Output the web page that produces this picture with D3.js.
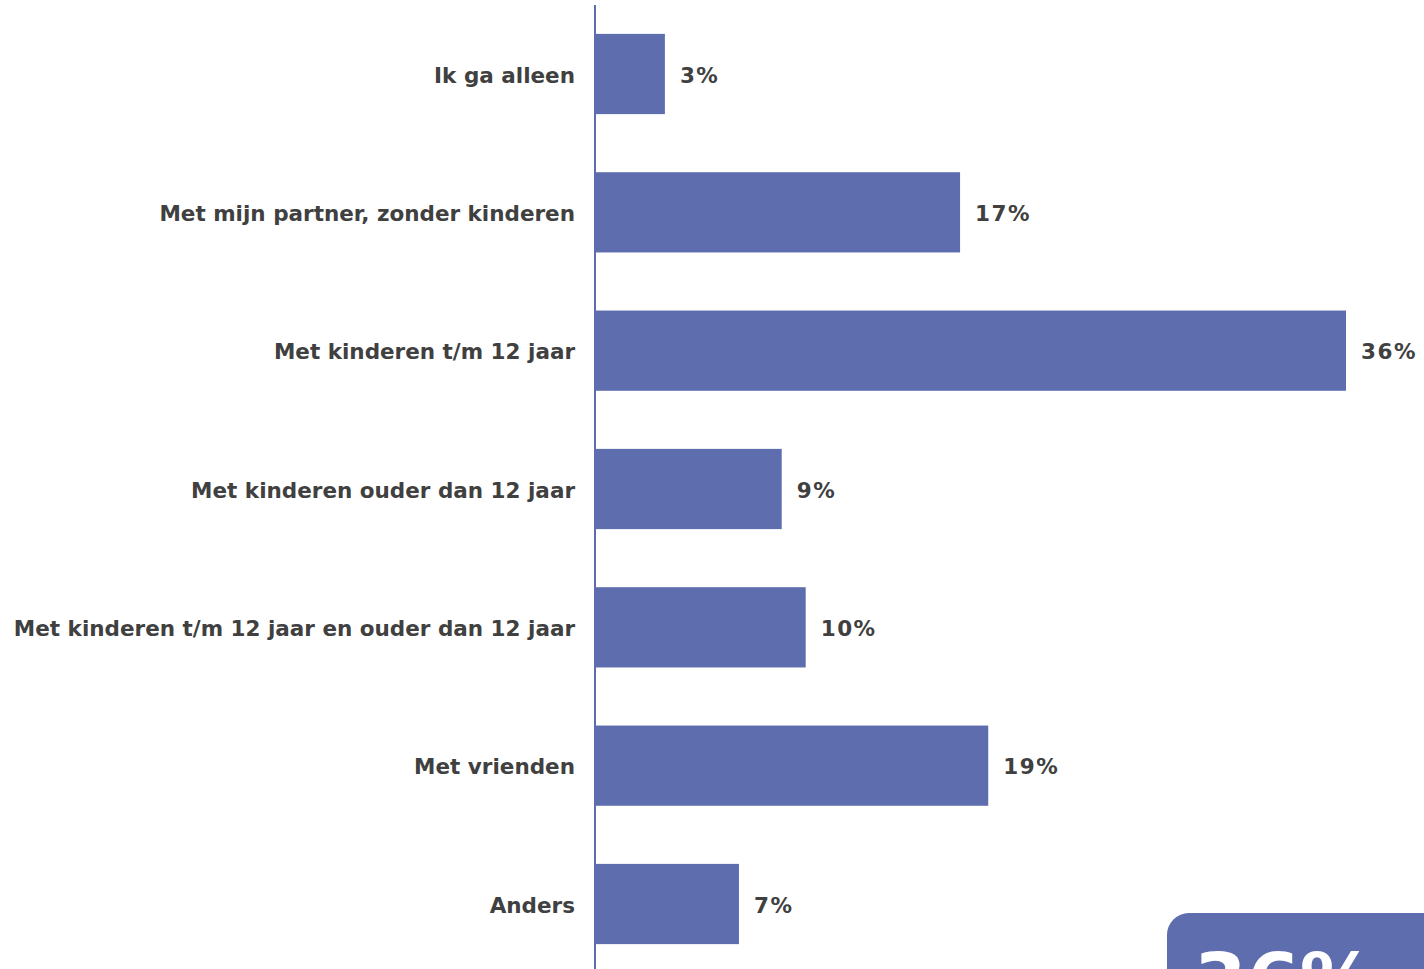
<!DOCTYPE html>
<html>
<head>
<meta charset="utf-8">
<script src="https://cdn.jsdelivr.net/npm/d3@7"></script>
<style>
  html, body { margin: 0; padding: 0; background: #fff; overflow: hidden; }
  svg { display: block; }
</style>
</head>
<body>
<svg id="chart" width="1424" height="969"></svg>
<script>
const categories = [
  "Ik ga alleen",
  "Met mijn partner, zonder kinderen",
  "Met kinderen t/m 12 jaar",
  "Met kinderen ouder dan 12 jaar",
  "Met kinderen t/m 12 jaar en ouder dan 12 jaar",
  "Met vrienden",
  "Anders"
];
const values = [3.35, 17.5, 36, 8.95, 10.1, 18.85, 6.9];
const valueLabels = ["3%", "17%", "36%", "9%", "10%", "19%", "7%"];
const highlightLabel = "36%";

const W = 1424, H = 969;
const barColor = "#5d6dad";
const textColor = "#404040";
const font = "'DejaVu Sans', Verdana, sans-serif";

const svg = d3.select("#chart");

const x = d3.scaleLinear().domain([0, 36]).range([595, 1346]);
const y = d3.scaleBand().domain(categories).range([4.83, 973.17])
  .paddingInner(0.42).paddingOuter(0.21);

// axis line
svg.append("line")
  .attr("x1", x(0)).attr("x2", x(0))
  .attr("y1", 5).attr("y2", H)
  .attr("stroke", barColor).attr("stroke-width", 2);

const data = categories.map((c, i) => ({ c, v: values[i], l: valueLabels[i] }));

svg.selectAll("rect.bar").data(data).join("rect")
  .attr("class", "bar")
  .attr("x", x(0))
  .attr("y", d => y(d.c))
  .attr("width", d => x(d.v) - x(0))
  .attr("height", y.bandwidth())
  .attr("fill", barColor);

svg.selectAll("text.cat").data(data).join("text")
  .attr("class", "cat")
  .attr("x", x(0) - 20)
  .attr("y", d => y(d.c) + y.bandwidth() / 2)
  .attr("dy", "0.4em")
  .attr("text-anchor", "end")
  .attr("font-family", font)
  .attr("font-weight", "bold")
  .attr("font-size", 21.5)
  .attr("fill", textColor)
  .text(d => d.c);

svg.selectAll("text.val").data(data).join("text")
  .attr("class", "val")
  .attr("x", d => x(d.v) + 15)
  .attr("y", d => y(d.c) + y.bandwidth() / 2)
  .attr("dy", "0.4em")
  .attr("font-family", font)
  .attr("font-weight", "bold")
  .attr("font-size", 21.5)
  .attr("letter-spacing", 1.5)
  .attr("fill", textColor)
  .text(d => d.l);

// highlight box bottom right
const g = svg.append("g");
g.append("rect")
  .attr("x", 1167).attr("y", 913)
  .attr("width", 300).attr("height", 150)
  .attr("rx", 22).attr("ry", 22)
  .attr("fill", barColor);
g.append("text")
  .attr("x", 1194).attr("y", 1008)
  .attr("font-family", font)
  .attr("font-weight", "bold")
  .attr("font-size", 76)
  .attr("fill", "#ffffff")
  .text(highlightLabel);
</script>
</body>
</html>
